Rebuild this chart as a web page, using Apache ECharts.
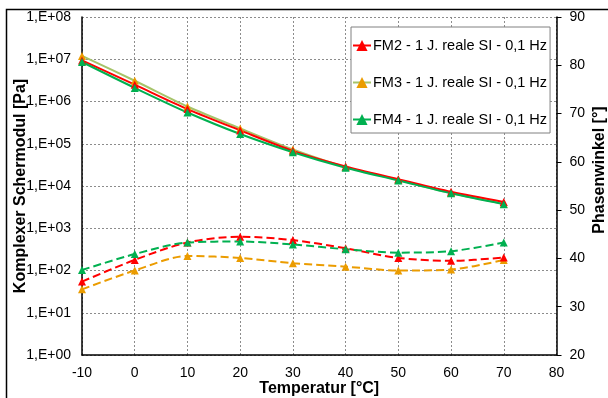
<!DOCTYPE html>
<html>
<head>
<meta charset="utf-8">
<script src="https://cdn.jsdelivr.net/npm/echarts@6/dist/echarts.min.js"></script>
<style>
html,body{margin:0;padding:0;background:#fff;}
#c{width:608px;height:398px;}
</style>
</head>
<body>
<div id="c"></div>
<script>
var temps = [-10, 0, 10, 20, 30, 40, 50, 60, 70];
var seriesNames = ['FM2 - 1 J. reale SI - 0,1 Hz', 'FM3 - 1 J. reale SI - 0,1 Hz', 'FM4 - 1 J. reale SI - 0,1 Hz'];
var modFM2 = [9.4e6, 2.5e6, 6.6e5, 2.07e5, 6.8e4, 2.9e4, 1.45e4, 7.3e3, 4.2e3];
var modFM3 = [1.2e7, 3.1e6, 7.6e5, 2.3e5, 7.3e4, 2.8e4, 1.4e4, 6.8e3, 3.8e3];
var modFM4 = [8.6e6, 2.1e6, 5.5e5, 1.7e5, 6.3e4, 2.7e4, 1.35e4, 6.7e3, 3.7e3];
var phaseFM2 = [35.2, 39.7, 43.3, 44.5, 43.8, 42.1, 40.1, 39.5, 40.2];
var phaseFM3 = [33.6, 37.5, 40.5, 40.1, 39.0, 38.3, 37.5, 37.7, 39.7];
var phaseFM4 = [37.6, 40.9, 43.3, 43.5, 42.9, 41.9, 41.2, 41.5, 43.3];
var leftTickLabels = ['1,E+00','1,E+01','1,E+02','1,E+03','1,E+04','1,E+05','1,E+06','1,E+07','1,E+08'];

var FONT = 'Liberation Sans, Arial, sans-serif';
function pairs(xs, ys){ return xs.map(function(x,i){ return [x, ys[i]]; }); }

var red = '#ff0000', orange = '#eb9c00', olive = '#a6c46a', green = '#00b050';

function solid(name, vals, lineColor, markColor){
  return {
    name: name, type: 'line', xAxisIndex: 0, yAxisIndex: 0,
    data: pairs(temps, vals), smooth: 0.3,
    symbol: 'triangle', symbolSize: 8,
    lineStyle: {color: lineColor, width: 2},
    itemStyle: {color: markColor},
    emphasis: {disabled: true}
  };
}
function dashed(name, vals, color){
  return {
    name: name, type: 'line', xAxisIndex: 0, yAxisIndex: 1,
    data: pairs(temps, vals), smooth: 0.3,
    symbol: 'triangle', symbolSize: 8,
    lineStyle: {color: color, width: 2, type: [8, 4]},
    itemStyle: {color: color},
    emphasis: {disabled: true}
  };
}

var chart = echarts.init(document.getElementById('c'), null, {renderer: 'canvas'});
chart.setOption({
  animation: false,
  backgroundColor: '#ffffff',
  textStyle: {fontFamily: FONT},
  graphic: [{
    type: 'rect', left: 4, top: 7, z: -10, silent: true,
    shape: {width: 720, height: 520},
    style: {fill: 'none', stroke: '#000', lineWidth: 1.5}
  }],
  grid: {left: 82, right: 51.5, top: 17, bottom: 43, containLabel: false, outerBoundsMode: 'none'},
  legend: {
    data: seriesNames,
    orient: 'vertical',
    left: 351, top: 27,
    padding: [11, 3, 6, 1],
    itemGap: 22, itemWidth: 18, itemHeight: 14,
    borderColor: '#808080', borderWidth: 1,
    backgroundColor: '#ffffff',
    textStyle: {fontFamily: FONT, fontSize: 14.5, color: '#000', padding: [0,0,0,-3]},
    selectedMode: false
  },
  xAxis: {
    type: 'value', min: -10, max: 80, interval: 10,
    name: 'Temperatur [°C]', nameLocation: 'middle', nameGap: 26, nameMoveOverlap: false,
    nameTextStyle: {fontFamily: FONT, fontSize: 16, fontWeight: 'bold', color: '#000'},
    axisLine: {show: true, onZero: false, lineStyle: {color: '#000', width: 1.5}},
    axisTick: {show: false},
    axisLabel: {fontFamily: FONT, fontSize: 14, color: '#000', margin: 11},
    splitLine: {show: true, lineStyle: {color: '#8c8c8c', width: 1, type: [2, 2]}}
  },
  yAxis: [{
    type: 'log', logBase: 10, min: 1, max: 1e8,
    name: 'Komplexer Schermodul [Pa]', nameLocation: 'middle', nameRotate: 90, nameGap: 53, nameMoveOverlap: false,
    nameTextStyle: {fontFamily: FONT, fontSize: 16, fontWeight: 'bold', color: '#000'},
    axisLine: {show: true, onZero: false, lineStyle: {color: '#000', width: 1.5}},
    axisTick: {show: false},
    axisLabel: {
      fontFamily: FONT, fontSize: 14, color: '#000', margin: 11,
      formatter: function(v){ var e = Math.round(Math.log10(v)); return leftTickLabels[e]; }
    },
    splitLine: {show: true, lineStyle: {color: '#8c8c8c', width: 1, type: [2, 2]}}
  }, {
    type: 'value', min: 20, max: 90, interval: 10, position: 'right',
    name: 'Phasenwinkel [°]', nameLocation: 'middle', nameRotate: 90, nameGap: 35, nameMoveOverlap: false,
    nameTextStyle: {fontFamily: FONT, fontSize: 16, fontWeight: 'bold', color: '#000', padding: [0, 0, 0, 32]},
    axisLine: {show: true, onZero: false, lineStyle: {color: '#000', width: 1.5}},
    axisTick: {show: true, inside: false, length: 5, lineStyle: {color: '#000', width: 1}},
    axisLabel: {fontFamily: FONT, fontSize: 14, color: '#000', margin: 13},
    splitLine: {show: false}
  }],
  series: [
    dashed('FM3 phase', phaseFM3, orange),
    dashed('FM2 phase', phaseFM2, red),
    dashed('FM4 phase', phaseFM4, green),
    solid(seriesNames[1], modFM3, olive, orange),
    solid(seriesNames[0], modFM2, red, red),
    solid(seriesNames[2], modFM4, green, green)
  ]
});
</script>
</body>
</html>
